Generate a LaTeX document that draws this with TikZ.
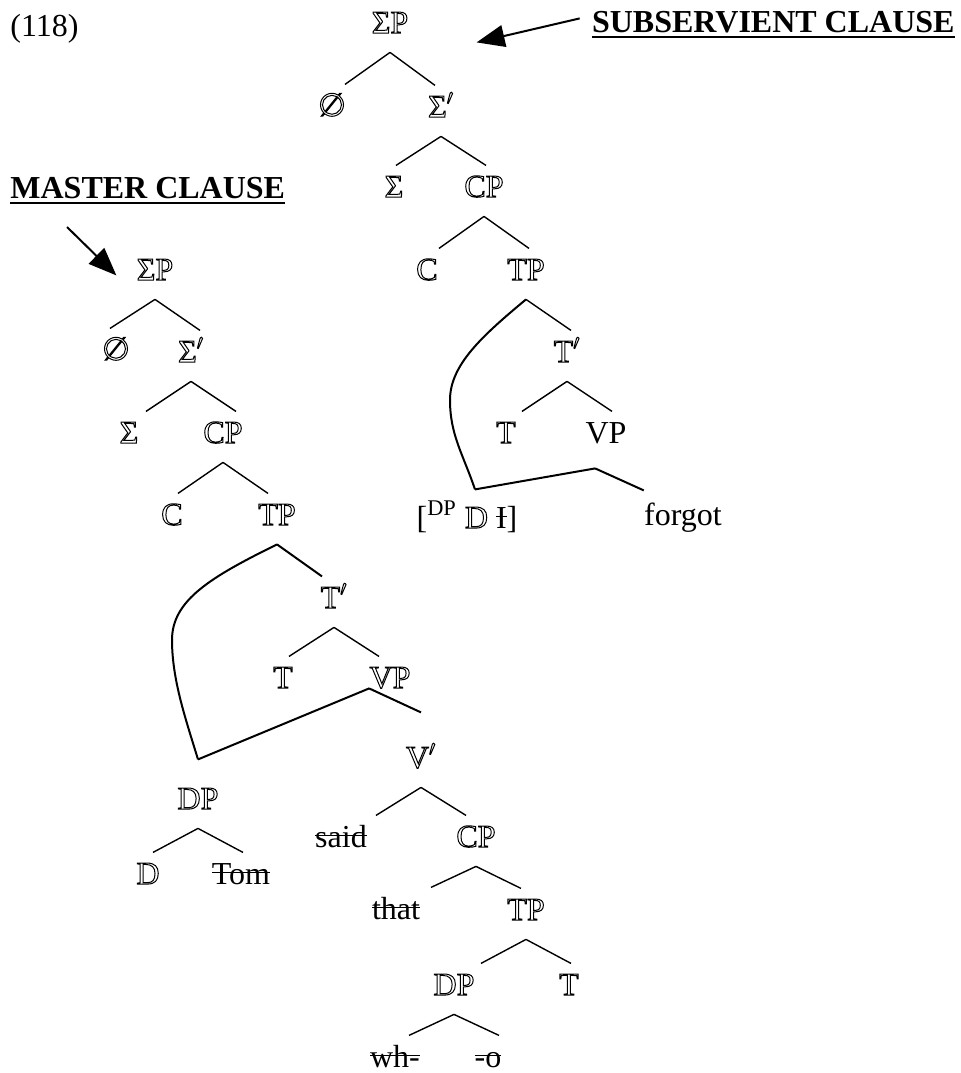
\documentclass[tikz,border=0pt]{standalone}
\usepackage{fontspec}
\setmainfont{Liberation Serif}
\newfontfamily\symfont{DejaVu Sans}
\usetikzlibrary{arrows.meta}
% hollow (outline) letters for the category labels
\newcommand{\hol}[1]{\special{pdf:literal direct 1 Tr 0.5 w}#1\special{pdf:literal direct 0 Tr}}
% struck-out and underlined words
\newcommand{\strk}[1]{\sbox0{#1}\rlap{\rule[0.34em]{\wd0}{0.7pt}}\usebox0}
\newcommand{\undl}[1]{\sbox0{#1}\rlap{\rule[-3pt]{\wd0}{0.9pt}}\usebox0}

\tikzset{
  lab/.style={inner sep=0pt, text height=10.6pt, text depth=0pt, anchor=base},
  br/.style={line width=0.7pt},
  mv/.style={line width=1pt},
  pointer/.style={line width=1pt, -{Triangle[length=14pt,width=11pt]}},
}

\begin{document}
\begin{tikzpicture}[x=0.5pt, y=-0.5pt, font=\fontsize{16}{19}\selectfont]
  \useasboundingbox (0,0) rectangle (961,1073);
  \def\drop{9.5pt}
  \def\rise{5pt}
  \def\spread{22.5pt}

  % Example number and clause headings
  \node[anchor=base west, inner sep=0pt] (num) at (10,36) {(118)};
  \node[anchor=base east, inner sep=0pt] (sub) at (955,32)
    {\undl{\textbf{SUBSERVIENT CLAUSE}}};
  \node[anchor=base west, inner sep=0pt] (mast) at (10,198)
    {\undl{\textbf{MASTER CLAUSE}}};

  % Subservient clause tree
  \node[lab] (sP1) at (390,33) {\hol{ΣP}};
  \node[lab] (zero1) at (332,116) {\hol{\symfont ∅}};
  \node[lab] (sbar1) at (441,117) {\hol{Σ$'$}};
  \node[lab] (sig1) at (394,197) {\hol{Σ}};
  \node[lab] (cp1) at (484,197) {\hol{CP}};
  \node[lab] (c1) at (427,280) {\hol{C}};
  \node[lab] (tp1) at (526,280) {\hol{TP}};
  \node[lab] (tbar1) at (567,362) {\hol{T$'$}};
  \node[lab] (t1) at (506,443) {\hol{T}};
  \node[lab] (vp1) at (606,443) {VP};
  \node[lab] (dp1) at (467,528) {[\textsuperscript{DP} \hol{D} \strk{I}]};
  \node[lab] (forgot) at (683,525) {forgot};

  % Master clause tree
  \node[lab] (sP2) at (155,280) {\hol{ΣP}};
  \node[lab] (zero2) at (116,360) {\hol{\symfont ∅}};
  \node[lab] (sbar2) at (191,362) {\hol{Σ$'$}};
  \node[lab] (sig2) at (129,443) {\hol{Σ}};
  \node[lab] (cp2) at (223,443) {\hol{CP}};
  \node[lab] (c2) at (172,525) {\hol{C}};
  \node[lab] (tp2) at (277,525) {\hol{TP}};
  \node[lab] (tbar2) at (334,608) {\hol{T$'$}};
  \node[lab] (t2) at (283,688) {\hol{T}};
  \node[lab] (vp2) at (390,688) {\hol{VP}};
  \node[lab] (vbar2) at (421,768) {\hol{V$'$}};
  \node[lab] (dp2) at (198,809) {\hol{DP}};
  \node[lab] (d2) at (148,884) {\hol{D}};
  \node[lab] (tom) at (241,884) {\strk{Tom}};
  \node[lab] (said) at (341,847) {\strk{said}};
  \node[lab] (cp3) at (476,847) {\hol{CP}};
  \node[lab] (that) at (396,919) {\strk{that}};
  \node[lab] (tp3) at (526,920) {\hol{TP}};
  \node[lab] (dp3) at (454,995) {\hol{DP}};
  \node[lab] (t3) at (569,995) {\hol{T}};
  \node[lab] (wh) at (395,1067) {\strk{wh-}};
  \node[lab] (oo) at (488,1067) {\strk{-o}};

  % Branches, subservient clause
  \draw[br] ([yshift=-\drop]sP1.south) -- ([xshift=-\spread,yshift=\rise]sP1.south |- zero1.north);
  \draw[br] ([yshift=-\drop]sP1.south) -- ([xshift=\spread,yshift=\rise]sP1.south |- sbar1.north);
  \draw[br] ([yshift=-\drop]sbar1.south) -- ([xshift=-\spread,yshift=\rise]sbar1.south |- sig1.north);
  \draw[br] ([yshift=-\drop]sbar1.south) -- ([xshift=\spread,yshift=\rise]sbar1.south |- cp1.north);
  \draw[br] ([yshift=-\drop]cp1.south) -- ([xshift=-\spread,yshift=\rise]cp1.south |- c1.north);
  \draw[br] ([yshift=-\drop]cp1.south) -- ([xshift=\spread,yshift=\rise]cp1.south |- tp1.north);
  \draw[br] ([yshift=-\drop]tp1.south) -- ([xshift=\spread,yshift=\rise]tp1.south |- tbar1.north);
  \draw[br] ([yshift=-\drop]tbar1.south) -- ([xshift=-\spread,yshift=\rise]tbar1.south |- t1.north);
  \draw[br] ([yshift=-\drop]tbar1.south) -- ([xshift=\spread,yshift=\rise]tbar1.south |- vp1.north);

  % Branches, master clause
  \draw[br] ([yshift=-\drop]sP2.south) -- ([xshift=-\spread,yshift=\rise]sP2.south |- zero2.north);
  \draw[br] ([yshift=-\drop]sP2.south) -- ([xshift=\spread,yshift=\rise]sP2.south |- sbar2.north);
  \draw[br] ([yshift=-\drop]sbar2.south) -- ([xshift=-\spread,yshift=\rise]sbar2.south |- sig2.north);
  \draw[br] ([yshift=-\drop]sbar2.south) -- ([xshift=\spread,yshift=\rise]sbar2.south |- cp2.north);
  \draw[br] ([yshift=-\drop]cp2.south) -- ([xshift=-\spread,yshift=\rise]cp2.south |- c2.north);
  \draw[br] ([yshift=-\drop]cp2.south) -- ([xshift=\spread,yshift=\rise]cp2.south |- tp2.north);
  \draw[br] ([yshift=-\drop]tbar2.south) -- ([xshift=-\spread,yshift=\rise]tbar2.south |- t2.north);
  \draw[br] ([yshift=-\drop]tbar2.south) -- ([xshift=\spread,yshift=\rise]tbar2.south |- vp2.north);
  \draw[br] ([yshift=-\drop]vbar2.south) -- ([xshift=-\spread,yshift=\rise]vbar2.south |- said.north);
  \draw[br] ([yshift=-\drop]vbar2.south) -- ([xshift=\spread,yshift=\rise]vbar2.south |- cp3.north);
  \draw[br] ([yshift=-\drop]cp3.south) -- ([xshift=-\spread,yshift=\rise]cp3.south |- that.north);
  \draw[br] ([yshift=-\drop]cp3.south) -- ([xshift=\spread,yshift=\rise]cp3.south |- tp3.north);
  \draw[br] ([yshift=-\drop]tp3.south) -- ([xshift=-\spread,yshift=\rise]tp3.south |- dp3.north);
  \draw[br] ([yshift=-\drop]tp3.south) -- ([xshift=\spread,yshift=\rise]tp3.south |- t3.north);
  \draw[br] ([yshift=-\drop]dp3.south) -- ([xshift=-\spread,yshift=\rise]dp3.south |- wh.north);
  \draw[br] ([yshift=-\drop]dp3.south) -- ([xshift=\spread,yshift=\rise]dp3.south |- oo.north);
  \draw[br] ([yshift=-\drop]dp2.south) -- ([xshift=-\spread,yshift=\rise]dp2.south |- d2.north);
  \draw[br] ([yshift=-\drop]dp2.south) -- ([xshift=\spread,yshift=\rise]dp2.south |- tom.north);

  % Shared DP, subservient clause
  \draw[mv] ([yshift=-\drop]tp1.south) .. controls (482,336) and (450,365) .. (450,400)
    .. controls (450,435) and (463,454) .. ([xshift=4pt,yshift=8.5pt]dp1.north);
  \draw[mv] ([shift={(5pt,-12.5pt)}]vp1.south west) -- ([xshift=4pt,yshift=8.5pt]dp1.north);
  \draw[mv] ([shift={(5pt,-12.5pt)}]vp1.south west) -- ([yshift=6.5pt]forgot.north west);

  % Shared DP, master clause
  \draw[mv] ([yshift=-\drop]tp2.south) -- ([xshift=\spread,yshift=\rise]tp2.south |- tbar2.north);
  \draw[mv] ([yshift=-\drop]tp2.south) .. controls (211,577) and (172,600) .. (172,640)
    .. controls (172,680) and (186,720) .. ([yshift=14pt]dp2.north);
  \draw[mv] ([yshift=14pt]dp2.north) -- (vp2.south west);
  \draw[mv] (vp2.south west) -- ([yshift=17pt]vbar2.north);

  % Pointers from the headings
  \draw[pointer] ([xshift=-6pt,yshift=3pt]sub.west) -- ([shift={(34pt,-10pt)}]sP1.east);
  \coordinate (mtail) at (67,227);
  \draw[pointer] (mtail) -- ([shift={(-10pt,-3pt)}]sP2.west);
\end{tikzpicture}
\end{document}
